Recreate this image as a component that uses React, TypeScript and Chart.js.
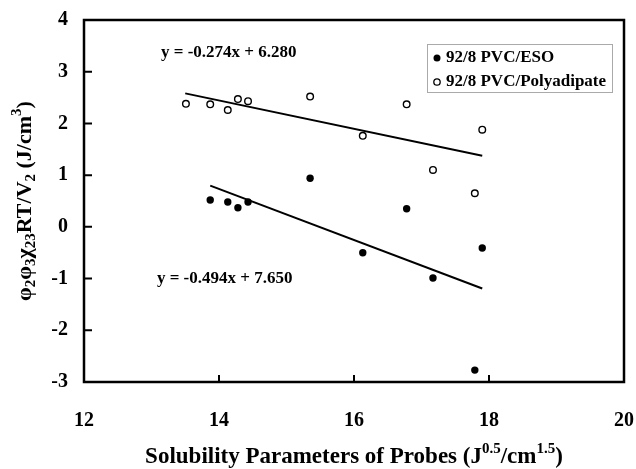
import React, { useEffect, useRef } from "react";
import { Chart, registerables } from "chart.js";

Chart.register(...registerables);

const esoX = [13.87, 14.13, 14.28, 14.43, 15.35, 16.13, 16.78, 17.17, 17.79, 17.9];
const esoY = [0.52, 0.48, 0.37, 0.48, 0.94, -0.5, 0.35, -0.99, -2.77, -0.41];
const adiX = [13.51, 13.87, 14.13, 14.28, 14.43, 15.35, 16.13, 16.78, 17.17, 17.79, 17.9];
const adiY = [2.38, 2.37, 2.26, 2.47, 2.43, 2.52, 1.76, 2.37, 1.1, 0.65, 1.88];

// trend line equations (from the labels) and their x-ranges
const esoFit = { slope: -0.494, intercept: 7.65 };
const adiFit = { slope: -0.274, intercept: 6.28 };
const esoFitRange = [13.87, 17.9];
const adiFitRange = [13.5, 17.9];

const seriesLabels = ["92/8 PVC/ESO", "92/8 PVC/Polyadipate"];
const equationLabels = ["y = -0.274x + 6.280", "y = -0.494x + 7.650"];
const xTicks = [12, 14, 16, 18, 20];
const yTicks = [-3, -2, -1, 0, 1, 2, 3, 4];

const FONT = "'Liberation Serif', 'Times New Roman', serif";

type Seg = { t: string; k?: "sub" | "sup" };
const yTitle: Seg[] = [
  { t: "φ" }, { t: "2", k: "sub" }, { t: "φ" }, { t: "3", k: "sub" }, { t: "χ" }, { t: "23", k: "sub" },
  { t: "RT/V" }, { t: "2", k: "sub" }, { t: " (J/cm" }, { t: "3", k: "sup" }, { t: ")" },
];
const xTitle: Seg[] = [
  { t: "Solubility Parameters of Probes (J" }, { t: "0.5", k: "sup" }, { t: "/cm" }, { t: "1.5", k: "sup" }, { t: ")" },
];

function drawRich(ctx: CanvasRenderingContext2D, segs: Seg[], cx: number, cy: number, size: number, rot: number) {
  const small = Math.round(size * 0.66);
  const fontFor = (s: Seg) => `bold ${s.k ? small : size}px ${FONT}`;
  let total = 0;
  for (const s of segs) { ctx.font = fontFor(s); total += ctx.measureText(s.t).width; }
  ctx.save();
  ctx.translate(cx, cy);
  ctx.rotate(rot);
  ctx.textBaseline = "middle";
  ctx.textAlign = "left";
  ctx.fillStyle = "#000";
  let x = -total / 2;
  for (const s of segs) {
    ctx.font = fontFor(s);
    const dy = s.k === "sub" ? size * 0.3 : s.k === "sup" ? -size * 0.36 : 0;
    ctx.fillText(s.t, x, dy);
    x += ctx.measureText(s.t).width;
  }
  ctx.restore();
}

const decorPlugin = {
  id: "decor",
  afterDraw(chart: any) {
    const ctx: CanvasRenderingContext2D = chart.ctx;
    const { left, right, top, bottom } = chart.chartArea;
    const xs = chart.scales.x;
    const ys = chart.scales.y;
    ctx.save();
    ctx.strokeStyle = "#000";
    ctx.lineWidth = 2.5;
    ctx.strokeRect(left, top, right - left, bottom - top);
    ctx.lineWidth = 2;
    ctx.beginPath();
    for (const v of yTicks) {
      if (v === yTicks[0] || v === yTicks[yTicks.length - 1]) continue;
      const py = ys.getPixelForValue(v);
      ctx.moveTo(left, py);
      ctx.lineTo(left + 8, py);
    }
    for (const v of xTicks) {
      if (v === xTicks[0] || v === xTicks[xTicks.length - 1]) continue;
      const px = xs.getPixelForValue(v);
      ctx.moveTo(px, bottom);
      ctx.lineTo(px, bottom - 7);
    }
    ctx.stroke();

    // equations
    ctx.fillStyle = "#000";
    ctx.font = `bold 17px ${FONT}`;
    ctx.textBaseline = "middle";
    ctx.textAlign = "left";
    ctx.fillText(equationLabels[0], xs.getPixelForValue(13.14), ys.getPixelForValue(3.37));
    ctx.fillText(equationLabels[1], xs.getPixelForValue(13.08), ys.getPixelForValue(-1.0));

    // legend
    const lx = 427, ly = 44, lw = 185, lh = 48;
    ctx.strokeStyle = "#aaa";
    ctx.lineWidth = 1;
    ctx.strokeRect(lx + 0.5, ly + 0.5, lw, lh);
    ctx.font = `bold 17px ${FONT}`;
    ctx.fillStyle = "#000";
    ctx.beginPath();
    ctx.arc(437, 58, 3.5, 0, Math.PI * 2);
    ctx.fill();
    ctx.fillText(seriesLabels[0], 446, 58);
    ctx.beginPath();
    ctx.arc(437, 82, 3.2, 0, Math.PI * 2);
    ctx.strokeStyle = "#000";
    ctx.lineWidth = 1.3;
    ctx.stroke();
    ctx.fillText(seriesLabels[1], 446, 82);

    drawRich(ctx, yTitle, 25, (top + bottom) / 2, 22, -Math.PI / 2);
    drawRich(ctx, xTitle, (left + right) / 2, 457, 23, 0);
    ctx.restore();
  },
};

export default function App() {
  const ref = useRef<HTMLCanvasElement | null>(null);
  useEffect(() => {
    document.body.style.margin = "0";
    const canvas = ref.current!;
    const line = (fit: { slope: number; intercept: number }, r: number[]) =>
      r.map((x) => ({ x, y: fit.slope * x + fit.intercept }));
    const chart = new Chart(canvas, {
      type: "scatter",
      data: {
        datasets: [
          {
            label: seriesLabels[0],
            data: esoX.map((x, i) => ({ x, y: esoY[i] })),
            backgroundColor: "#000",
            borderColor: "#000",
            pointRadius: 3.7,
            pointBorderWidth: 0,
          },
          {
            label: seriesLabels[1],
            data: adiX.map((x, i) => ({ x, y: adiY[i] })),
            backgroundColor: "#fff",
            borderColor: "#000",
            pointRadius: 3.3,
            pointBorderWidth: 1.4,
          },
          {
            label: "fit1",
            data: line(esoFit, esoFitRange),
            showLine: true,
            borderColor: "#000",
            borderWidth: 2,
            pointRadius: 0,
          },
          {
            label: "fit2",
            data: line(adiFit, adiFitRange),
            showLine: true,
            borderColor: "#000",
            borderWidth: 2,
            pointRadius: 0,
          },
        ],
      },
      options: {
        responsive: false,
        animation: false,
        layout: { padding: { top: 20, right: 12, left: 0, bottom: 0 } },
        plugins: { legend: { display: false }, tooltip: { enabled: false } },
        scales: {
          x: {
            type: "linear",
            min: 12,
            max: 20,
            afterBuildTicks: (s: any) => { s.ticks = xTicks.map((v) => ({ value: v })); },
            afterFit: (s: any) => { s.height = 87; s.paddingLeft = 0; s.paddingRight = 0; },
            grid: { display: false, drawTicks: false },
            border: { display: false },
            ticks: { color: "#000", padding: 27, font: { family: FONT, size: 20, weight: "bold" } },
          },
          y: {
            type: "linear",
            min: -3,
            max: 4,
            afterBuildTicks: (s: any) => { s.ticks = yTicks.map((v) => ({ value: v })); },
            afterFit: (s: any) => { s.width = 84; s.paddingTop = 0; s.paddingBottom = 0; },
            grid: { display: false, drawTicks: false },
            border: { display: false },
            ticks: { color: "#000", padding: 16, font: { family: FONT, size: 20, weight: "bold" } },
          },
        },
      },
      plugins: [decorPlugin],
    } as any);
    return () => chart.destroy();
  }, []);
  return <canvas ref={ref} width={636} height={469} style={{ display: "block" }} />;
}
